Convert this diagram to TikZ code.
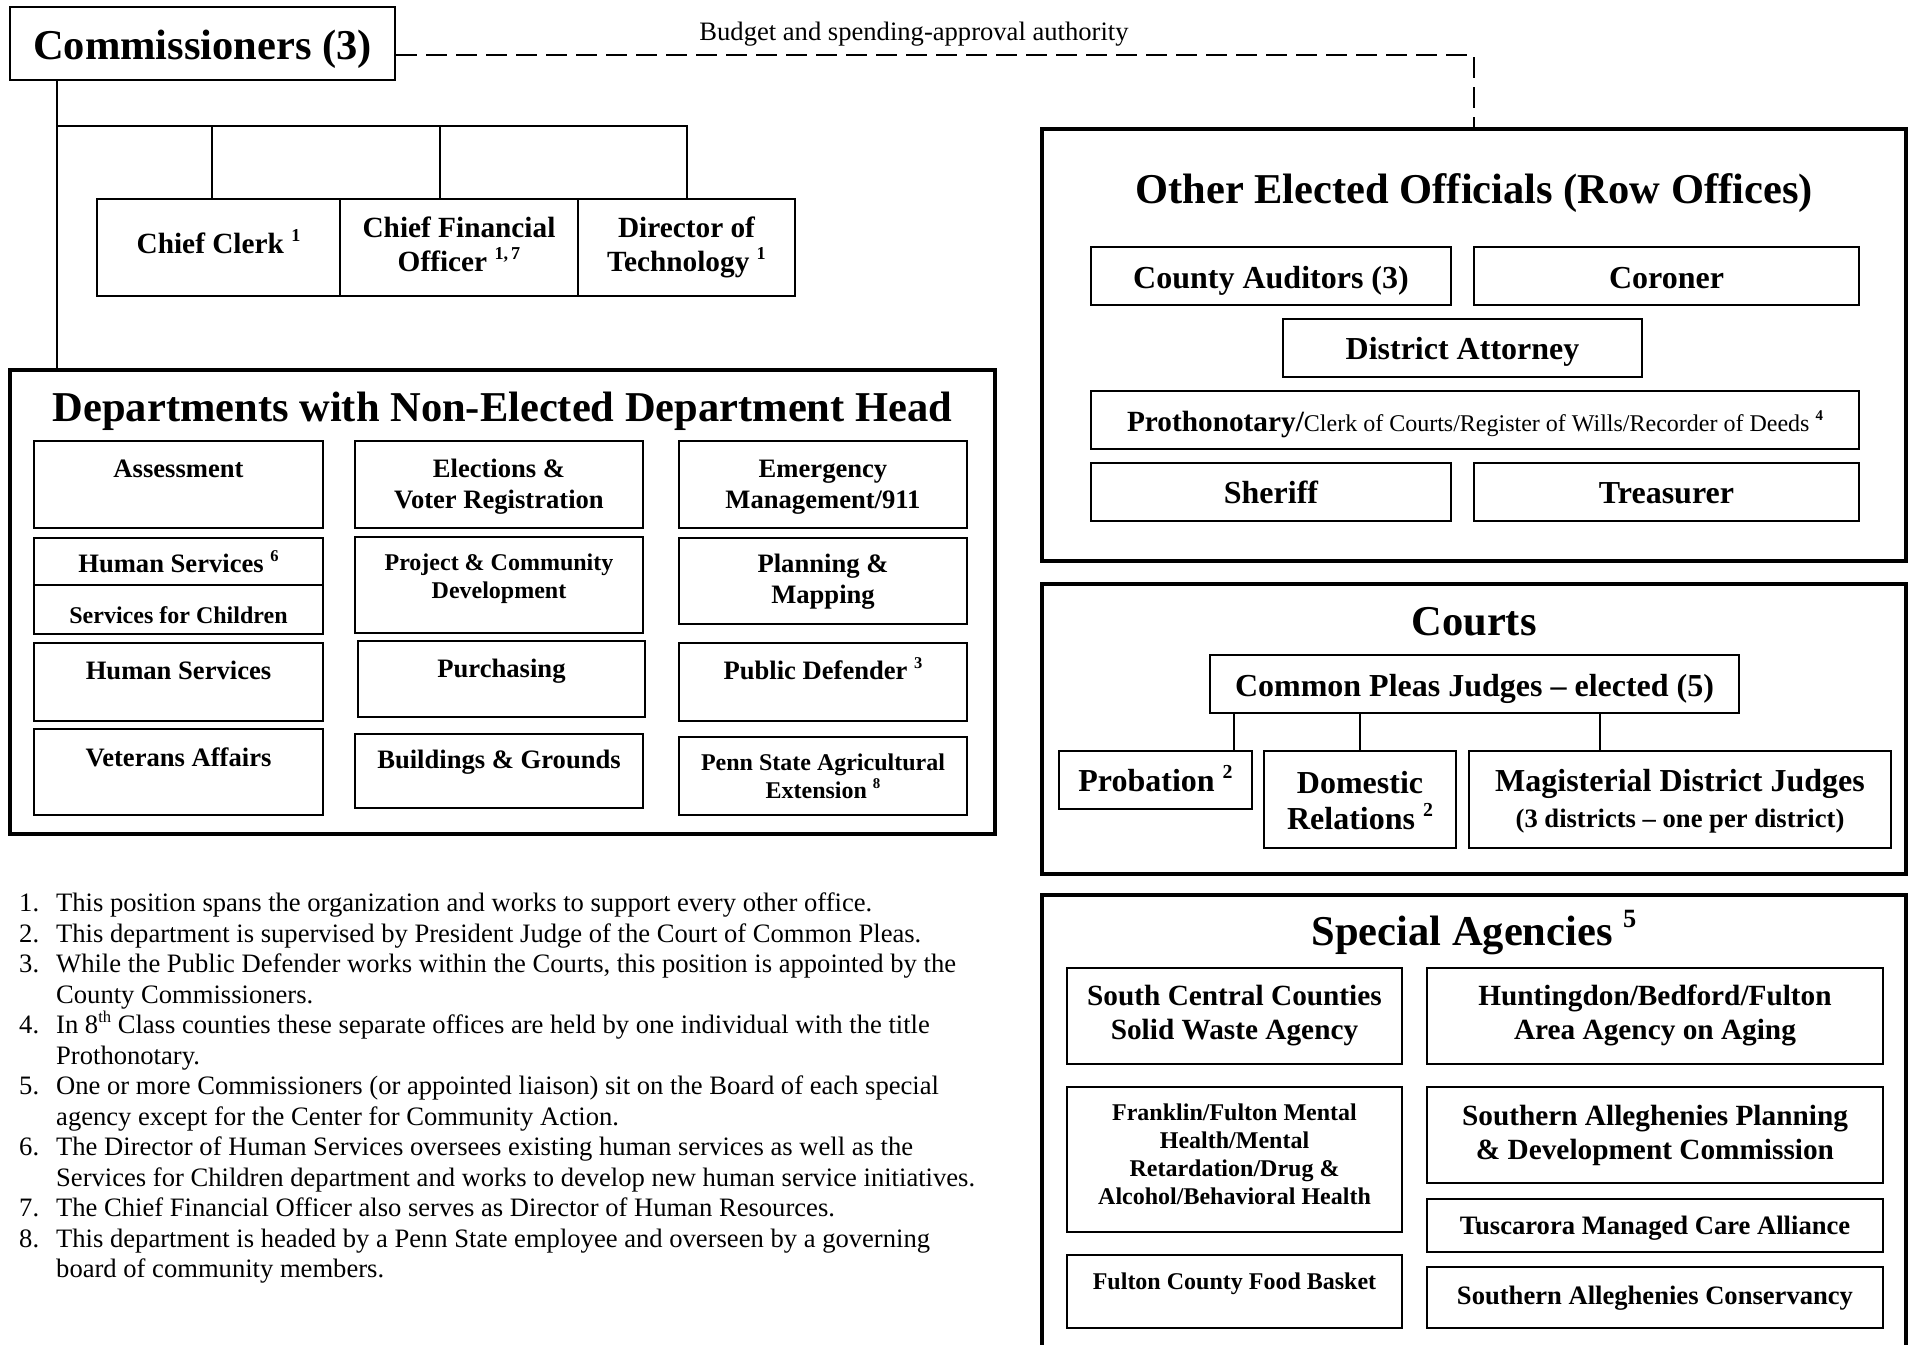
\documentclass[tikz,border=0pt]{standalone}
\usepackage{fontspec}
\setmainfont{Liberation Serif}
\usepackage{graphicx}

\newcommand{\ftitle}{\fontsize{42.5}{49}\selectfont\bfseries}
\newcommand{\fbig}{\fontsize{32}{36}\selectfont\bfseries}
\newcommand{\fmid}{\fontsize{29.3}{34}\selectfont\bfseries}
\newcommand{\fnorm}{\fontsize{26.6}{30.6}\selectfont\bfseries}
\newcommand{\fsmall}{\fontsize{24}{27.6}\selectfont\bfseries}
\newcommand{\freg}{\fontsize{24}{27.6}\selectfont\mdseries}
\newcommand{\mk}[1]{\raisebox{0.42em}{\scalebox{0.62}{#1}}}

\begin{document}
\begin{tikzpicture}[x=1pt, y=-1pt,
    cell/.style={draw, line width=2pt, inner sep=0pt, align=flush center, anchor=north},
    group/.style={draw, line width=3.5pt, inner sep=0pt, align=flush center, anchor=north, font=\ftitle},
    link/.style={line width=2pt},
    budget/.style={line width=2.8pt, dash pattern=on 21pt off 9pt}]
\useasboundingbox (0,0) rectangle (1911,1344);

\node[cell, font=\ftitle, text width=385pt, text height=52pt, text depth=21pt] (comm) at (202.5,6) {Commissioners (3)};
\node[cell, font=\fmid, text width=243pt, text height=54.6pt, text depth=42.4pt] (clerk) at (218.5,198) {Chief Clerk \mk{1}};
\node[cell, font=\fmid, text width=238pt, text height=38.6pt, text depth=58.4pt] (cfo) at (459,198) {Chief Financial\\Officer \mk{1,\,7}};
\node[cell, font=\fmid, text width=217pt, text height=38.6pt, text depth=58.4pt] (tech) at (686.5,198) {Director of\\Technology \mk{1}};

\node[group, text width=985pt, text height=52pt, text depth=412pt] (dept) at (502.5,368) {Departments with Non-Elected Department Head};
\node[cell, font=\fnorm, text width=289pt, text height=36.8pt, text depth=50.2pt] (assess) at (178.5,440) {Assessment};
\node[cell, font=\fnorm, text width=288pt, text height=36.8pt, text depth=50.2pt] (elect) at (499,440) {Elections \&\\Voter Registration};
\node[cell, font=\fnorm, text width=288pt, text height=36.8pt, text depth=50.2pt] (emerg) at (823,440) {Emergency\\Management/911};
\node[cell, font=\fnorm, text width=289pt, text height=34.8pt, text depth=12.2pt] (hsdir) at (178.5,537) {Human Services \mk{6}};
\node[cell, font=\fsmall, text width=289pt, text height=38.9pt, text depth=10.1pt] (sfc) at (178.5,584) {Services for Children};
\node[cell, font=\fsmall, text width=288pt, text height=33.9pt, text depth=62.1pt] (proj) at (499,536) {Project \& Community\\Development};
\node[cell, font=\fnorm, text width=288pt, text height=34.8pt, text depth=51.2pt] (plan) at (823,537) {Planning \&\\Mapping};
\node[cell, font=\fnorm, text width=289pt, text height=36.8pt, text depth=41.2pt] (hs) at (178.5,642) {Human Services};
\node[cell, font=\fnorm, text width=287pt, text height=36.8pt, text depth=39.2pt] (purch) at (501.5,640) {Purchasing};
\node[cell, font=\fnorm, text width=288pt, text height=36.8pt, text depth=41.2pt] (pubdef) at (823,642) {Public Defender \mk{3}};
\node[cell, font=\fnorm, text width=289pt, text height=37.8pt, text depth=48.2pt] (vet) at (178.5,728) {Veterans Affairs};
\node[cell, font=\fnorm, text width=288pt, text height=34.8pt, text depth=39.2pt] (bldg) at (499,733) {Buildings \& Grounds};
\node[cell, font=\fsmall, text width=288pt, text height=33.9pt, text depth=44.1pt] (penn) at (823,736) {Penn State Agricultural\\Extension \mk{8}};

\coordinate (branch) at (57,126);
\draw[link] (comm.south -| branch) -- (dept.north -| branch);
\draw[link] (branch) -| ([xshift=-6.5pt]clerk.north);
\draw[link] (branch) -| ([xshift=-19pt]cfo.north);
\draw[link] (branch) -| (tech.north);

\node[group, text width=864pt, text height=74.7pt, text depth=357.3pt] (other) at (1474,127) {Other Elected Officials (Row Offices)};
\node[cell, font=\fbig, text width=360pt, text height=41.6pt, text depth=16.4pt] (aud) at (1271,246) {County Auditors (3)};
\node[cell, font=\fbig, text width=385pt, text height=41.6pt, text depth=16.4pt] (coroner) at (1666.5,246) {Coroner};
\node[cell, font=\fbig, text width=359pt, text height=40.6pt, text depth=17.4pt] (da) at (1462.5,318) {District Attorney};
\node[cell, font=\fmid, text width=768pt, text height=40pt, text depth=18pt] (proth) at (1475,390) {Prothonotary/\freg Clerk of Courts/Register of Wills/Recorder of Deeds \mk{\bfseries 4}};
\node[cell, font=\fbig, text width=360pt, text height=40.6pt, text depth=17.4pt] (sheriff) at (1271,462) {Sheriff};
\node[cell, font=\fbig, text width=385pt, text height=40.6pt, text depth=17.4pt] (treas) at (1666.5,462) {Treasurer};

\draw[budget] ([yshift=-11.5pt]comm.east) -| (other.north);
\node[font=\fontsize{26.6}{30.6}\selectfont, anchor=base] (budgetlbl) at (914,40.5) {Budget and spending-approval authority};

\node[group, text width=864pt, text height=51.3pt, text depth=238.7pt] (courts) at (1474,582) {Courts};
\node[cell, font=\fbig, text width=529pt, text height=41.6pt, text depth=16.4pt] (cpj) at (1474.5,654) {Common Pleas Judges – elected (5)};
\node[cell, font=\fbig, text width=193pt, text height=40.6pt, text depth=17.4pt] (prob) at (1155.5,750) {Probation \mk{2}};
\node[cell, font=\fbig, text width=192pt, text height=42.6pt, text depth=54.4pt] (domrel) at (1360,750) {Domestic\\Relations \mk{2}};
\node[cell, font=\fbig, text width=422pt, text height=40.6pt, text depth=56.4pt] (magis) at (1680,750) {Magisterial District Judges\\{\fnorm (3 districts – one per district)}};
\coordinate (pj) at ([xshift=78.5pt]prob.north);
\coordinate (mj) at ([xshift=-80pt]magis.north);
\draw[link] (pj) -- (pj |- cpj.south);
\draw[link] (domrel.north) -- (domrel.north |- cpj.south);
\draw[link] (mj) -- (mj |- cpj.south);

\node[group, text width=864pt, text height=50.3pt, text depth=450pt] (special) at (1474,893) {Special Agencies \mk{5}};
\node[cell, font=\fmid, text width=335pt, text height=37.7pt, text depth=58.3pt] (scc) at (1234.5,967) {South Central Counties\\Solid Waste Agency};
\node[cell, font=\fmid, text width=456pt, text height=37.7pt, text depth=58.3pt] (hbf) at (1655,967) {Huntingdon/Bedford/Fulton\\Area Agency on Aging};
\node[cell, font=\fontsize{24}{28}\selectfont\bfseries, text width=335pt, text height=33.9pt, text depth=111.1pt] (ffmh) at (1234.5,1086) {Franklin/Fulton Mental\\Health/Mental\\Retardation/Drug \&\\Alcohol/Behavioral Health};
\node[cell, font=\fmid, text width=456pt, text height=38.7pt, text depth=57.3pt] (sap) at (1655,1086) {Southern Alleghenies Planning\\\& Development Commission};
\node[cell, font=\fnorm, text width=456pt, text height=35.8pt, text depth=17.2pt] (tmca) at (1655,1198) {Tuscarora Managed Care Alliance};
\node[cell, font=\fsmall, text width=335pt, text height=34.9pt, text depth=38.1pt] (fcfb) at (1234.5,1254) {Fulton County Food Basket};
\node[cell, font=\fnorm, text width=456pt, text height=37.8pt, text depth=23.2pt] (sac) at (1655,1266) {Southern Alleghenies Conservancy};

\node[anchor=base west, inner sep=0pt, text width=1000pt, align=flush left, font=\fontsize{26.6}{30.5}\selectfont] (notes) at (19,911.8) {%
\makebox[37pt][l]{1.}This position spans the organization and works to support every other office.\\
\makebox[37pt][l]{2.}This department is supervised by President Judge of the Court of Common Pleas.\\
\makebox[37pt][l]{3.}While the Public Defender works within the Courts, this position is appointed by the\\
\hspace*{37pt}County Commissioners.\\
\makebox[37pt][l]{4.}In 8\mk{th} Class counties these separate offices are held by one individual with the title\\
\hspace*{37pt}Prothonotary.\\
\makebox[37pt][l]{5.}One or more Commissioners (or appointed liaison) sit on the Board of each special\\
\hspace*{37pt}agency except for the Center for Community Action.\\
\makebox[37pt][l]{6.}The Director of Human Services oversees existing human services as well as the\\
\hspace*{37pt}Services for Children department and works to develop new human service initiatives.\\
\makebox[37pt][l]{7.}The Chief Financial Officer also serves as Director of Human Resources.\\
\makebox[37pt][l]{8.}This department is headed by a Penn State employee and overseen by a governing\\
\hspace*{37pt}board of community members.};
\end{tikzpicture}
\end{document}
